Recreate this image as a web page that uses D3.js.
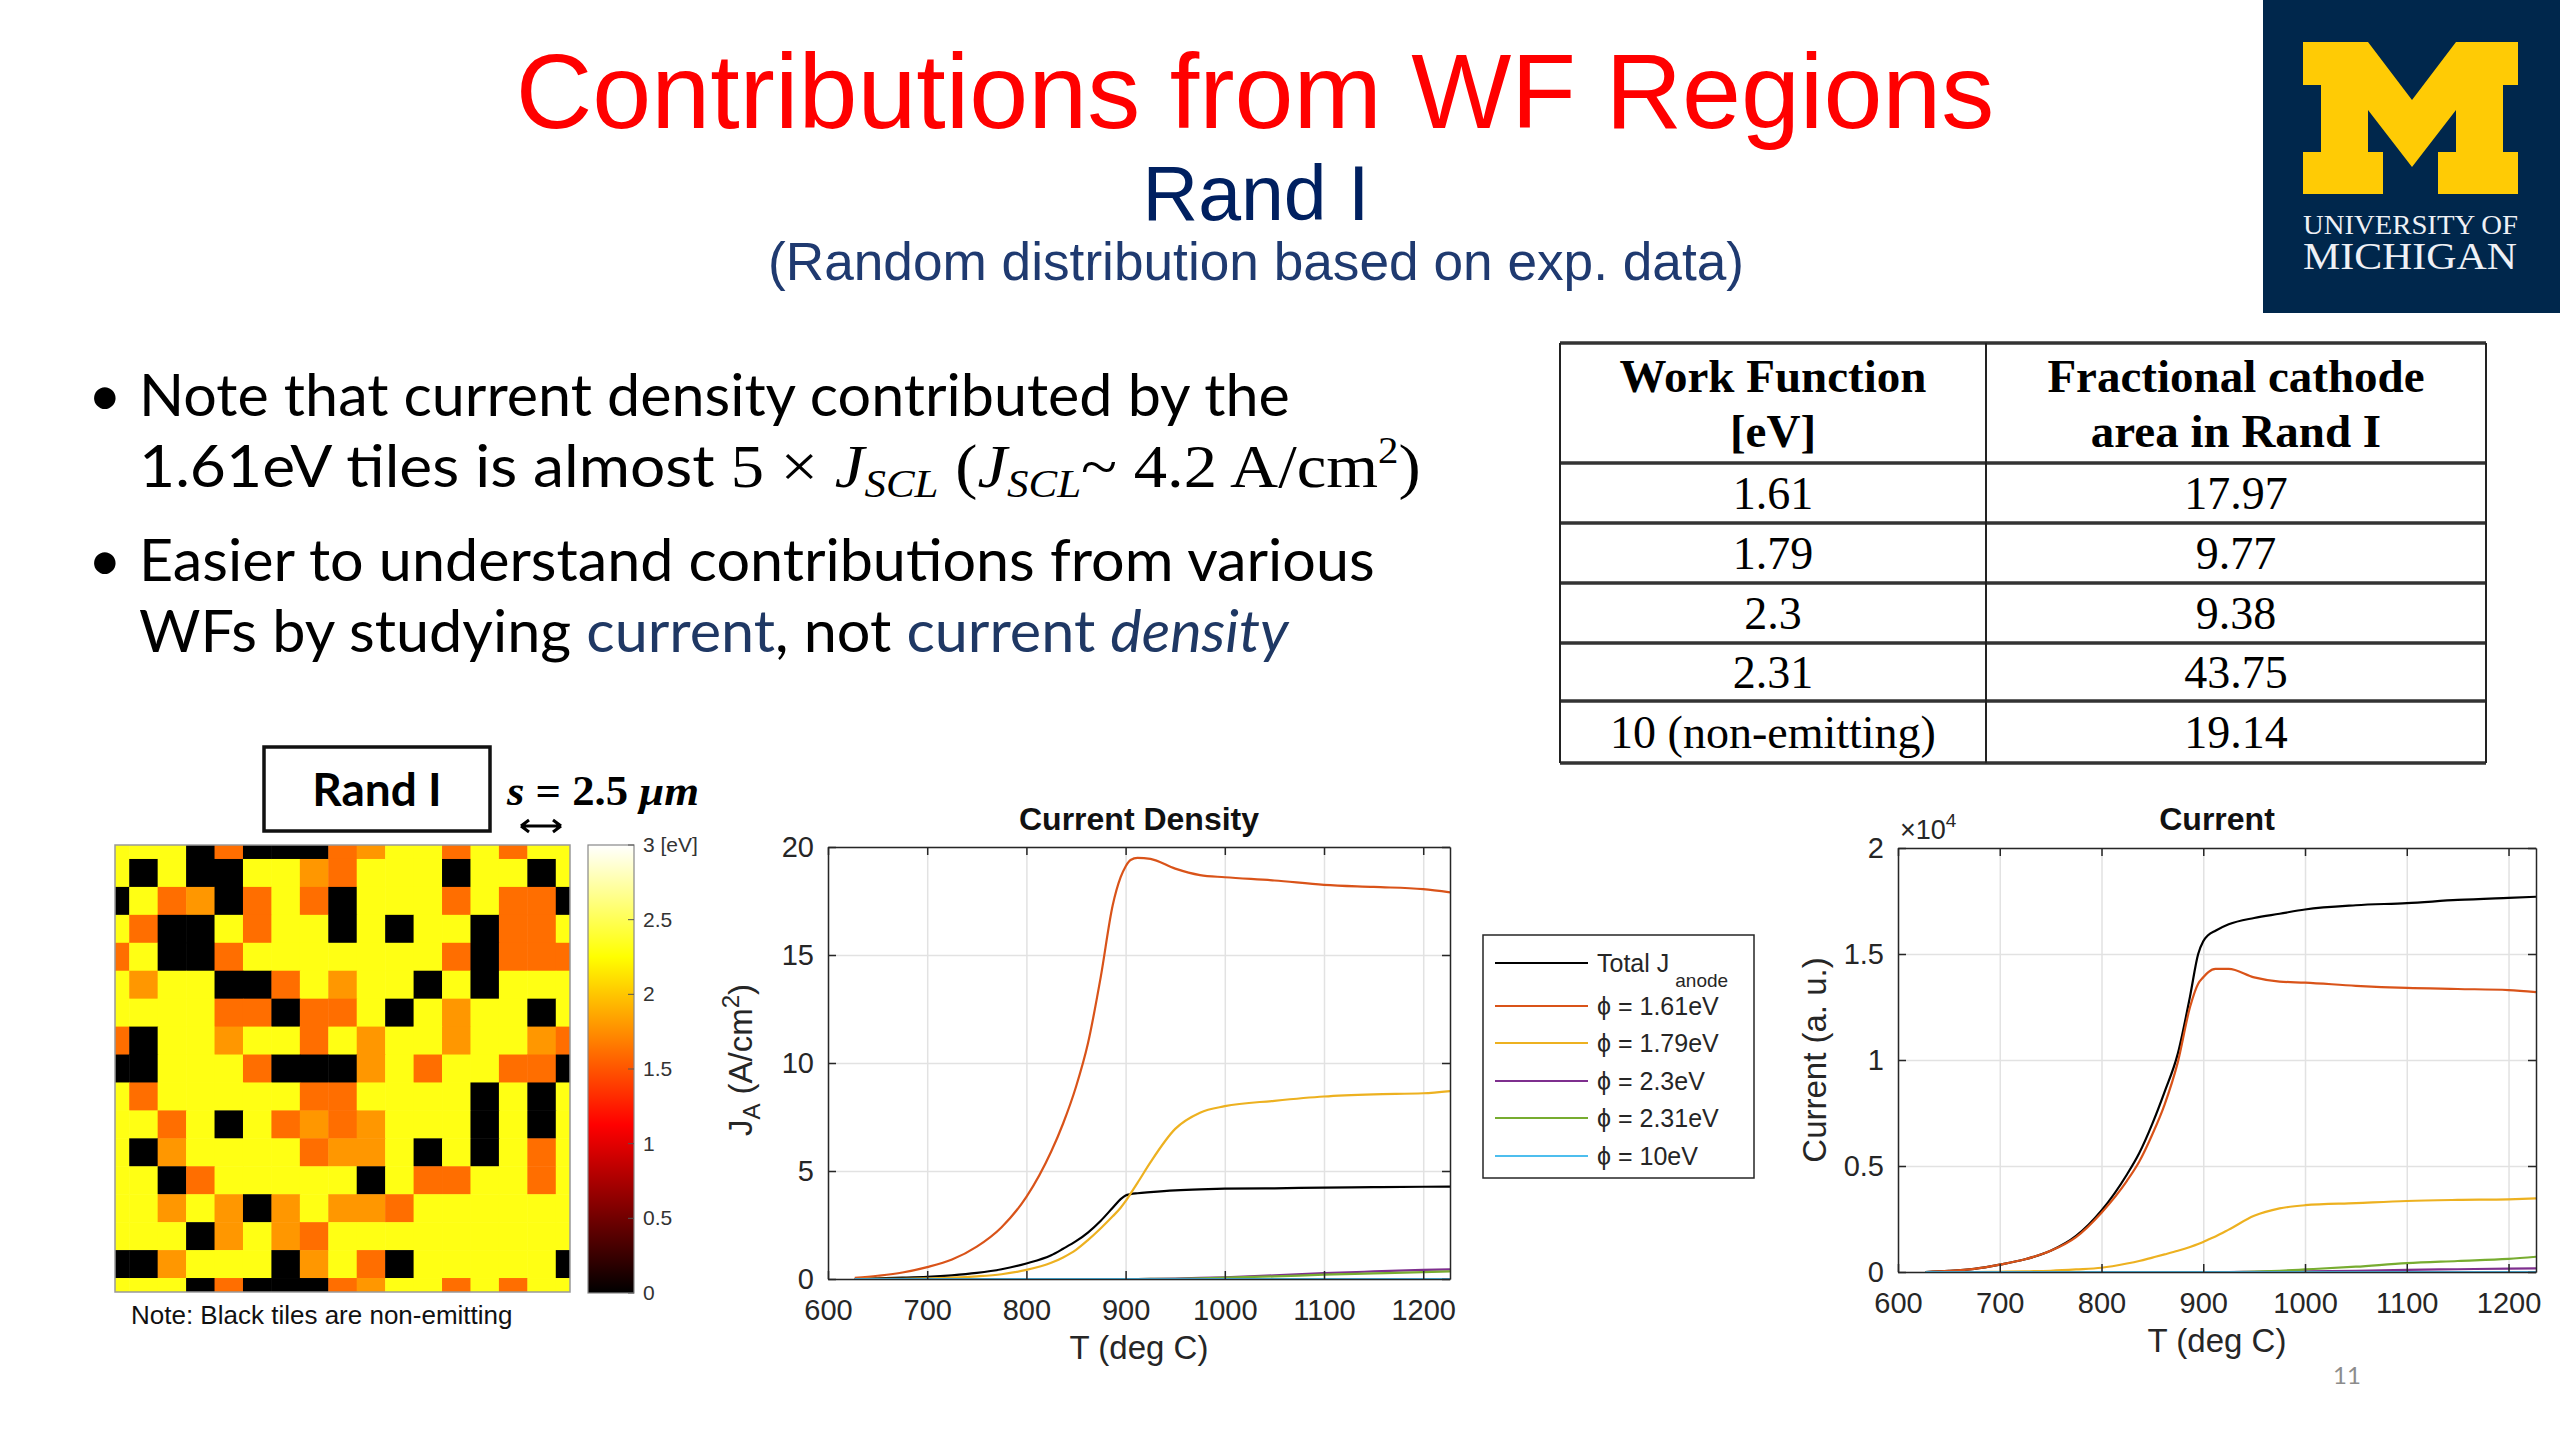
<!DOCTYPE html>
<html>
<head>
<meta charset="utf-8">
<script src="https://cdn.jsdelivr.net/npm/d3@7"></script>
<style>body{margin:0;background:#fff;}</style>
</head>
<body>
<svg width="2560" height="1440"></svg>
<script>
var svg = d3.select('svg');

// ---------- data ----------
var tempC = [627, 650, 675, 700, 725, 750, 775, 800, 825, 837, 850, 862, 875, 887, 895, 900, 905, 912, 925, 950, 975, 1000, 1050, 1100, 1150, 1200, 1227];

// current density J_A (A/cm^2)
var jTotal = [0.01, 0.03, 0.06, 0.1, 0.17, 0.28, 0.45, 0.72, 1.1, 1.4, 1.75, 2.15, 2.7, 3.3, 3.7, 3.87, 3.93, 3.97, 4.02, 4.1, 4.15, 4.18, 4.2, 4.23, 4.25, 4.27, 4.28];
var j161 = [0.05, 0.15, 0.3, 0.55, 0.9, 1.5, 2.4, 3.8, 5.9, 7.2, 8.9, 10.9, 14.0, 17.3, 18.6, 19.1, 19.4, 19.5, 19.45, 19.0, 18.7, 18.6, 18.45, 18.25, 18.15, 18.05, 17.9];
var j179 = [0, 0.005, 0.01, 0.03, 0.06, 0.12, 0.22, 0.42, 0.75, 1.0, 1.35, 1.8, 2.35, 2.9, 3.3, 3.6, 3.95, 4.45, 5.4, 6.95, 7.7, 8.0, 8.25, 8.45, 8.55, 8.6, 8.7];
var j23 = [0, 0, 0, 0, 0, 0, 0, 0, 0, 0, 0, 0, 0, 0, 0, 0, 0, 0, 0.005, 0.02, 0.05, 0.08, 0.17, 0.27, 0.35, 0.42, 0.45];
var j231 = [0, 0, 0, 0, 0, 0, 0, 0, 0, 0, 0, 0, 0, 0, 0, 0, 0, 0, 0.003, 0.01, 0.03, 0.06, 0.12, 0.2, 0.26, 0.32, 0.35];
var j10 = [0, 0, 0, 0, 0, 0, 0, 0, 0, 0, 0, 0, 0, 0, 0, 0, 0, 0, 0, 0, 0, 0, 0, 0, 0, 0, 0];

// current (a.u., x10^4)
var iTotal = [0, 0.005, 0.015, 0.035, 0.06, 0.1, 0.17, 0.29, 0.46, 0.56, 0.7, 0.85, 1.03, 1.3, 1.5, 1.56, 1.59, 1.61, 1.64, 1.67, 1.69, 1.71, 1.73, 1.74, 1.755, 1.765, 1.77];
var i161 = [0, 0.005, 0.015, 0.035, 0.06, 0.1, 0.165, 0.28, 0.43, 0.52, 0.65, 0.79, 0.99, 1.25, 1.36, 1.39, 1.415, 1.43, 1.43, 1.39, 1.37, 1.365, 1.35, 1.34, 1.335, 1.33, 1.32];
var i179 = [0, 0, 0, 0.001, 0.003, 0.006, 0.012, 0.02, 0.04, 0.052, 0.068, 0.083, 0.1, 0.118, 0.132, 0.142, 0.153, 0.168, 0.2, 0.265, 0.3, 0.315, 0.325, 0.335, 0.34, 0.343, 0.347];
var i23 = [0, 0, 0, 0, 0, 0, 0, 0, 0, 0, 0, 0, 0, 0, 0, 0, 0, 0, 0, 0.001, 0.002, 0.003, 0.006, 0.01, 0.013, 0.016, 0.017];
var i231 = [0, 0, 0, 0, 0, 0, 0, 0, 0, 0, 0, 0, 0, 0, 0, 0, 0, 0, 0, 0.002, 0.006, 0.012, 0.025, 0.042, 0.052, 0.062, 0.072];
var i10 = [0, 0, 0, 0, 0, 0, 0, 0, 0, 0, 0, 0, 0, 0, 0, 0, 0, 0, 0, 0, 0, 0, 0, 0, 0, 0, 0];

var seriesLabels = ['Total J', 'ϕ = 1.61eV', 'ϕ = 1.79eV', 'ϕ = 2.3eV', 'ϕ = 2.31eV', 'ϕ = 10eV'];
var seriesColors = ['#000000', '#D95319', '#EDB120', '#7E2F8E', '#77AC30', '#4DBEEE'];

var xTicks = [600, 700, 800, 900, 1000, 1100, 1200];
var jTicks = [0, 5, 10, 15, 20];
var iTicks = [0, 0.5, 1, 1.5, 2];

// table
var wfLabels = ['1.61', '1.79', '2.3', '2.31', '10 (non-emitting)'];
var areaPct = ['17.97', '9.77', '9.38', '43.75', '19.14'];

// 16x16 tile map, periodic: O = 1.61 eV, L = 1.79 eV, Y = 2.3/2.31 eV, K = non-emitting
var tileRows = [
  'YYYKOKKKOLYYOYOY',
  'YKYKKYYLOYYYKYYK',
  'KYOLKOYOKYYYOYOO',
  'YOKKYOYYKYKYYKOO',
  'OYKKOYYYYYYYOKOO',
  'YLYYKKOYLYYKYKYY',
  'YYYYOOKOOYKYLYYK',
  'OKYYLYYOYLYYLYYL',
  'KKYYYOKKKLYOYYOO',
  'YOYYYYYOOYYYYKYK',
  'YYOYKYOLOLYYYKYK',
  'YKLYYYYOLLYKYKYO',
  'YYKOYYYYYKYOOYYO',
  'YYLYLKLYLLOYYYYY',
  'YYYKLYLOYYYYYYYY',
  'KKLYYYKLYOKYYYYY'
];
var tileWF = {O: 1.61, L: 1.79, Y: 2.31, K: 0};
var cbTicks = [0, 0.5, 1, 1.5, 2, 2.5, 3];

var sans = 'Liberation Sans, Arial, sans-serif';
var serif = 'Liberation Serif, Times New Roman, serif';
var body = 'Lato, Open Sans, sans-serif';

svg.append('rect').attr('width', 2560).attr('height', 1440).attr('fill', '#fff');

// ---------- header ----------
svg.append('text').attr('x', 1255).attr('y', 128).attr('text-anchor', 'middle')
  .attr('font-family', sans).attr('font-size', 106).attr('fill', '#FF0000')
  .text('Contributions from WF Regions');
svg.append('text').attr('x', 1256).attr('y', 220).attr('text-anchor', 'middle')
  .attr('font-family', sans).attr('font-size', 77).attr('fill', '#002060')
  .text('Rand I');
svg.append('text').attr('x', 1256).attr('y', 280).attr('text-anchor', 'middle')
  .attr('font-family', sans).attr('font-size', 53).attr('fill', '#1F3A70')
  .attr('textLength', 976).attr('lengthAdjust', 'spacingAndGlyphs')
  .text('(Random distribution based on exp. data)');

// logo
var logo = svg.append('g').attr('transform', 'translate(2263,0)');
logo.append('rect').attr('width', 297).attr('height', 313).attr('fill', '#00274C');
var mPts = [[0,0],[65,0],[109,58],[153,0],[215,0],[215,43],[200,43],[200,110],[215,110],[215,152],[135,152],[135,110],[153,110],[153,68],[109,125],[65,68],[65,110],[80,110],[80,152],[0,152],[0,110],[18,110],[18,43],[0,43]];
logo.append('path').attr('transform', 'translate(40,42)')
  .attr('d', d3.line()(mPts) + 'Z').attr('fill', '#FFCB05');
logo.append('text').attr('x', 40).attr('y', 234).attr('font-family', serif).attr('font-size', 28)
  .attr('fill', '#eef0f5').attr('textLength', 215).attr('lengthAdjust', 'spacingAndGlyphs').text('UNIVERSITY OF');
logo.append('text').attr('x', 40).attr('y', 269).attr('font-family', serif).attr('font-size', 38)
  .attr('fill', '#eef0f5').attr('textLength', 214).attr('lengthAdjust', 'spacingAndGlyphs').text('MICHIGAN');

// ---------- bullets ----------
function fitLine(g, target) {
  var w = g.node().getBBox().width;
  return w > 0 ? target / w : 1;
}
function bulletLine(x, y, target, build) {
  var g = svg.append('g');
  var t = g.append('text').attr('font-family', body).attr('font-size', 58).attr('fill', '#000');
  build(t);
  var s = fitLine(t, target);
  g.attr('transform', 'translate(' + x + ',' + y + ') scale(' + s + ',1)');
}
[416, 581].forEach(function (y) {
  svg.append('text').attr('x', 88).attr('y', y).attr('font-family', body)
    .attr('font-size', 58).text('•');
});
bulletLine(139, 416, 1151, function (t) { t.text('Note that current density contributed by the'); });
bulletLine(139, 487, 1282, function (t) {
  t.append('tspan').text('1.61eV tiles is almost ');
  t.append('tspan').attr('font-family', serif).attr('font-size', 62).text('5 × ');
  t.append('tspan').attr('font-family', serif).attr('font-size', 62).attr('font-style', 'italic').text('J');
  t.append('tspan').attr('font-family', serif).attr('font-style', 'italic').attr('font-size', 40).attr('dy', 10).text('SCL');
  t.append('tspan').attr('font-family', serif).attr('font-size', 62).attr('dy', -10).text(' (');
  t.append('tspan').attr('font-family', serif).attr('font-size', 62).attr('font-style', 'italic').text('J');
  t.append('tspan').attr('font-family', serif).attr('font-style', 'italic').attr('font-size', 40).attr('dy', 10).text('SCL');
  t.append('tspan').attr('font-family', serif).attr('font-size', 62).attr('dy', -10).text('~ 4.2 A/cm');
  t.append('tspan').attr('font-family', serif).attr('font-size', 38).attr('dy', -24).text('2');
  t.append('tspan').attr('font-family', serif).attr('font-size', 62).attr('dy', 24).text(')');
});
bulletLine(139, 581, 1236, function (t) { t.text('Easier to understand contributions from various'); });
bulletLine(139, 652, 1151, function (t) {
  t.append('tspan').text('WFs by studying ');
  t.append('tspan').attr('fill', '#1F3864').text('current');
  t.append('tspan').text(', not ');
  t.append('tspan').attr('fill', '#1F3864').text('current ');
  t.append('tspan').attr('fill', '#1F3864').attr('font-style', 'italic').text('density');
});

// ---------- table ----------
var tblX = [1560, 1986, 2486];
var tblY = [343, 463, 523, 583, 643, 701, 763];
var tbl = svg.append('g');
tblY.forEach(function (y) {
  tbl.append('line').attr('x1', tblX[0]).attr('x2', tblX[2]).attr('y1', y).attr('y2', y)
    .attr('stroke', '#333').attr('stroke-width', 3.5);
});
tblX.forEach(function (x) {
  tbl.append('line').attr('x1', x).attr('x2', x).attr('y1', tblY[0]).attr('y2', tblY[6])
    .attr('stroke', '#222').attr('stroke-width', 2);
});
var cx1 = (tblX[0] + tblX[1]) / 2, cx2 = (tblX[1] + tblX[2]) / 2;
[['Work Function', '[eV]', cx1], ['Fractional cathode', 'area in Rand I', cx2]].forEach(function (h) {
  tbl.append('text').attr('x', h[2]).attr('y', 392).attr('text-anchor', 'middle').attr('font-family', serif)
    .attr('font-weight', 'bold').attr('font-size', 47).text(h[0]);
  tbl.append('text').attr('x', h[2]).attr('y', 447).attr('text-anchor', 'middle').attr('font-family', serif)
    .attr('font-weight', 'bold').attr('font-size', 47).text(h[1]);
});
wfLabels.forEach(function (w, i) {
  var yb = (tblY[i + 1] + tblY[i + 2]) / 2 + 16;
  tbl.append('text').attr('x', cx1).attr('y', yb).attr('text-anchor', 'middle').attr('font-family', serif)
    .attr('font-size', 46).text(w);
  tbl.append('text').attr('x', cx2).attr('y', yb).attr('text-anchor', 'middle').attr('font-family', serif)
    .attr('font-size', 46).text(areaPct[i]);
});

// ---------- tile map ----------
var hot = d3.scaleLinear().domain([0, 1.125, 2.25, 3]).range(['#000000', '#ff0000', '#ffff00', '#ffffff']).clamp(true);
var xh = d3.scaleLinear().domain([0.5, 16.5]).range([115, 570]);
var yh = d3.scaleLinear().domain([0.5, 16.5]).range([845, 1292]);
svg.append('clipPath').attr('id', 'hclip').append('rect')
  .attr('x', xh(0.5)).attr('y', yh(0.5)).attr('width', xh(16.5) - xh(0.5)).attr('height', yh(16.5) - yh(0.5));
var cells = [];
for (var r = 0; r <= 16; r++) {
  for (var c = 0; c <= 16; c++) {
    cells.push({r: r, c: c, v: tileWF[tileRows[r % 16][c % 16]]});
  }
}
svg.append('g').attr('clip-path', 'url(#hclip)').selectAll('rect').data(cells).enter().append('rect')
  .attr('x', function (d) { return xh(d.c); })
  .attr('y', function (d) { return yh(d.r); })
  .attr('width', xh(1) - xh(0) + 0.5)
  .attr('height', yh(1) - yh(0) + 0.5)
  .attr('fill', function (d) { return hot(d.v); });
svg.append('rect').attr('x', xh(0.5)).attr('y', yh(0.5)).attr('width', xh(16.5) - xh(0.5))
  .attr('height', yh(16.5) - yh(0.5)).attr('fill', 'none').attr('stroke', '#999').attr('stroke-width', 1.5);

// colorbar
var cbY = d3.scaleLinear().domain([0, 3]).range([1293, 845]);
var grad = svg.append('defs').append('linearGradient').attr('id', 'hotgrad')
  .attr('x1', 0).attr('y1', 1).attr('x2', 0).attr('y2', 0);
d3.range(0, 3.01, 0.125).forEach(function (v) {
  grad.append('stop').attr('offset', v / 3).attr('stop-color', hot(v));
});
svg.append('rect').attr('x', 588).attr('y', cbY(3)).attr('width', 46).attr('height', cbY(0) - cbY(3))
  .attr('fill', 'url(#hotgrad)').attr('stroke', '#888').attr('stroke-width', 1.2);
var cbg = svg.append('g').attr('font-family', sans).attr('font-size', 21).attr('fill', '#333');
cbTicks.forEach(function (v) {
  cbg.append('line').attr('x1', 628).attr('x2', 634).attr('y1', cbY(v)).attr('y2', cbY(v)).attr('stroke', '#555');
  cbg.append('text').attr('x', 643).attr('y', cbY(v) + 7).text(v === 3 ? '3 [eV]' : v);
});

// Rand I box and scale
svg.append('rect').attr('x', 264).attr('y', 747).attr('width', 226).attr('height', 84)
  .attr('fill', '#fff').attr('stroke', '#111').attr('stroke-width', 3.5);
svg.append('text').attr('x', 377).attr('y', 806).attr('text-anchor', 'middle').attr('font-family', body)
  .attr('font-weight', 'bold').attr('font-size', 46).text('Rand I');
var st = svg.append('text').attr('x', 507).attr('y', 805).attr('font-family', serif).attr('font-size', 42)
  .attr('font-weight', 'bold').attr('textLength', 192).attr('lengthAdjust', 'spacingAndGlyphs');
st.append('tspan').attr('font-style', 'italic').text('s');
st.append('tspan').text(' = 2.5 ');
st.append('tspan').attr('font-style', 'italic').text('μm');
svg.append('path').attr('d', 'M521,826 L561,826 M521,826 l8,-6 M521,826 l8,6 M561,826 l-8,-6 M561,826 l-8,6')
  .attr('stroke', '#000').attr('stroke-width', 3).attr('fill', 'none');
svg.append('text').attr('x', 131).attr('y', 1324).attr('font-family', sans).attr('font-size', 26)
  .attr('fill', '#111').text('Note: Black tiles are non-emitting');

// ---------- line charts ----------
function lineChart(opts) {
  var x = d3.scaleLinear().domain([600, 1227]).range(opts.xr);
  var y = d3.scaleLinear().domain(opts.yd).range(opts.yr);
  var g = svg.append('g');
  var w = opts.xr[1] - opts.xr[0], h = opts.yr[0] - opts.yr[1];

  // grid
  g.append('g').attr('transform', 'translate(0,' + opts.yr[0] + ')')
    .call(d3.axisBottom(x).tickValues(xTicks).tickSize(-h).tickFormat(''))
    .call(function (a) { a.select('.domain').remove(); a.selectAll('line').attr('stroke', '#e2e2e2').attr('stroke-width', 1.5); });
  g.append('g').attr('transform', 'translate(' + opts.xr[0] + ',0)')
    .call(d3.axisLeft(y).tickValues(opts.yTicks).tickSize(-w).tickFormat(''))
    .call(function (a) { a.select('.domain').remove(); a.selectAll('line').attr('stroke', '#e2e2e2').attr('stroke-width', 1.5); });

  // series
  var line = d3.line().x(function (d) { return x(d[0]); }).y(function (d) { return y(d[1]); }).curve(d3.curveMonotoneX);
  opts.series.forEach(function (s, k) {
    g.append('path').datum(tempC.map(function (t, i) { return [t, s[i]]; }))
      .attr('d', line).attr('fill', 'none').attr('stroke', seriesColors[k]).attr('stroke-width', 2.2);
  });

  // axes, inward ticks on all sides
  function style(a) {
    a.select('.domain').attr('stroke', '#262626').attr('stroke-width', 1.5);
    a.selectAll('line').attr('stroke', '#262626').attr('stroke-width', 1.5);
    a.selectAll('text').attr('font-family', sans).attr('font-size', 29).attr('fill', '#262626');
  }
  g.append('g').attr('transform', 'translate(0,' + opts.yr[0] + ')')
    .call(d3.axisBottom(x).tickValues(xTicks).tickSizeInner(-8).tickSizeOuter(0).tickPadding(20).tickFormat(d3.format('d'))).call(style);
  g.append('g').attr('transform', 'translate(0,' + opts.yr[1] + ')')
    .call(d3.axisTop(x).tickValues(xTicks).tickSizeInner(-8).tickSizeOuter(0).tickFormat('')).call(style);
  g.append('g').attr('transform', 'translate(' + opts.xr[0] + ',0)')
    .call(d3.axisLeft(y).tickValues(opts.yTicks).tickSizeInner(-8).tickSizeOuter(0).tickPadding(14).tickFormat(opts.fmt)).call(style);
  g.append('g').attr('transform', 'translate(' + opts.xr[1] + ',0)')
    .call(d3.axisRight(y).tickValues(opts.yTicks).tickSizeInner(-8).tickSizeOuter(0).tickFormat('')).call(style);

  var cxm = (opts.xr[0] + opts.xr[1]) / 2;
  g.append('text').attr('x', cxm).attr('y', 830).attr('text-anchor', 'middle').attr('font-family', sans)
    .attr('font-weight', 'bold').attr('font-size', 32).attr('fill', '#111').text(opts.title);
  g.append('text').attr('x', cxm).attr('y', opts.yr[0] + 80).attr('text-anchor', 'middle').attr('font-family', sans)
    .attr('font-size', 33).attr('fill', '#262626').text('T (deg C)');
  return {g: g, x: x, y: y};
}

var jc = lineChart({xr: [828, 1450], yr: [1279, 847], yd: [0, 20], yTicks: jTicks, fmt: d3.format('d'),
  title: 'Current Density', series: [jTotal, j161, j179, j23, j231, j10]});
var jl = svg.append('text').attr('transform', 'translate(752,1060) rotate(-90)').attr('text-anchor', 'middle')
  .attr('font-family', sans).attr('font-size', 33).attr('fill', '#262626');
jl.append('tspan').text('J');
jl.append('tspan').attr('font-size', 24).attr('dy', 8).text('A');
jl.append('tspan').attr('dy', -8).text('  (A/cm');
jl.append('tspan').attr('font-size', 24).attr('dy', -13).text('2');
jl.append('tspan').attr('dy', 13).text(')');

var ic = lineChart({xr: [1898, 2536], yr: [1272, 848], yd: [0, 2], yTicks: iTicks, fmt: function (d) { return d; },
  title: 'Current', series: [iTotal, i161, i179, i23, i231, i10]});
svg.append('text').attr('transform', 'translate(1826,1060) rotate(-90)').attr('text-anchor', 'middle')
  .attr('font-family', sans).attr('font-size', 33).attr('fill', '#262626').text('Current (a. u.)');
var ex = svg.append('text').attr('x', 1900).attr('y', 839).attr('font-family', sans).attr('font-size', 27).attr('fill', '#262626');
ex.append('tspan').text('×10');
ex.append('tspan').attr('font-size', 19).attr('dy', -12).text('4');

// legend
var lg = svg.append('g').attr('transform', 'translate(1483,935)');
lg.append('rect').attr('width', 271).attr('height', 243).attr('fill', '#fff').attr('stroke', '#262626').attr('stroke-width', 1.5);
var legY = [28, 71, 108, 146, 183, 221];
seriesLabels.forEach(function (lab, k) {
  lg.append('line').attr('x1', 12).attr('x2', 105).attr('y1', legY[k]).attr('y2', legY[k])
    .attr('stroke', seriesColors[k]).attr('stroke-width', 2.2);
  var t = lg.append('text').attr('x', 114).attr('y', legY[k] + 9).attr('font-family', sans).attr('font-size', 25).attr('fill', '#262626');
  if (k === 0) {
    t.append('tspan').text(lab);
    t.append('tspan').attr('font-size', 19).attr('dy', 15).attr('dx', 6).text('anode');
  } else {
    t.text(lab);
  }
});

// page number
svg.append('text').attr('x', 2347).attr('y', 1384).attr('text-anchor', 'middle').attr('font-family', body)
  .attr('font-size', 24).attr('fill', '#8c8c8c').text('11');
</script>
</body>
</html>
